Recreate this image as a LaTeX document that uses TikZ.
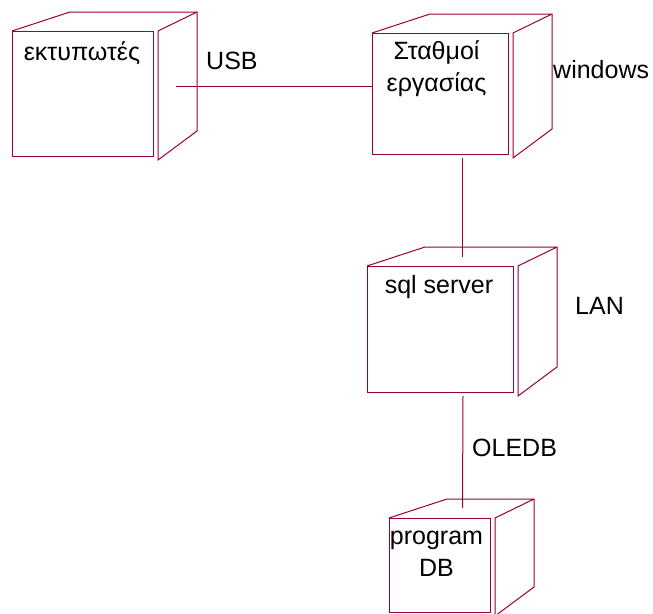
\documentclass[tikz,border=0pt]{standalone}
\usepackage{fontspec}
\setmainfont{Liberation Sans}
\usepackage{tikz}
\definecolor{nodemaroon}{RGB}{153, 0, 51}
\tikzset{
    face/.style={rectangle, draw=nodemaroon, line width=1pt, inner sep=0pt, anchor=north west},
    edgeline/.style={draw=nodemaroon, line width=1pt},
    nodetext/.style={font=\fontsize{25}{32}\selectfont, align=center, inner sep=0pt, anchor=base},
    conntext/.style={font=\fontsize{25}{32}\selectfont, inner sep=0pt, anchor=base west}
}

\begin{document}
\begin{tikzpicture}[x=1pt, y=-1pt]
    \useasboundingbox (0,0) rectangle (653,613);

    % --- FRONT FACES ---
    \node[face, minimum width=141pt, minimum height=125pt] (prn) at (12,31) {};
    \node[face, minimum width=136pt, minimum height=121pt] (ws) at (372,33) {};
    \node[face, minimum width=146pt, minimum height=126pt] (sql) at (367,266) {};
    \node[face, minimum width=101pt, minimum height=94pt] (pdb) at (389,518) {};

    % top and side of each box
    \foreach \n in {prn, ws, sql, pdb}
        \draw[edgeline] (\n.north west) -- ++(58,-19) -- ([shift={(43,-19)}]\n.north east)
            -- ([shift={(43,-26)}]\n.south east) -- ([shift={(4,3)}]\n.south east)
            -- ([shift={(4,0)}]\n.north east) -- ([shift={(43,-19)}]\n.north east);

    % --- NODE NAMES ---
    \node[nodetext] (prn-t) at ([shift={(-1,29)}]prn.north) {εκτυπωτές};
    \node[nodetext] (ws-t) at ([shift={(-4,58)}]ws.north) {Σταθμοί\\ εργασίας};
    \node[nodetext] (sql-t) at ([shift={(-1.5,27)}]sql.north) {sql server};
    \node[nodetext] (pdb-t) at ([shift={(-3.5,58)}]pdb.north) {program\\ DB};

    % --- CONNECTORS ---
    \coordinate (usb-a) at (176,86);
    \draw[edgeline] (usb-a) -- (ws.west |- usb-a);
    \draw[edgeline] ([shift={(22,3)}]ws.south) -- ([shift={(22,-9)}]sql.north);
    \draw[edgeline] ([shift={(22.5,3)}]sql.south) -- ([shift={(22.5,-10)}]pdb.north);

    % Connector labels
    \node[conntext] (usb-l) at (206,69) {USB};
    \node[conntext] (win-l) at (553,78) {windows};
    \node[conntext] (lan-l) at (575,314) {LAN};
    \node[conntext] (oledb-l) at (472,456) {OLEDB};
\end{tikzpicture}
\end{document}
